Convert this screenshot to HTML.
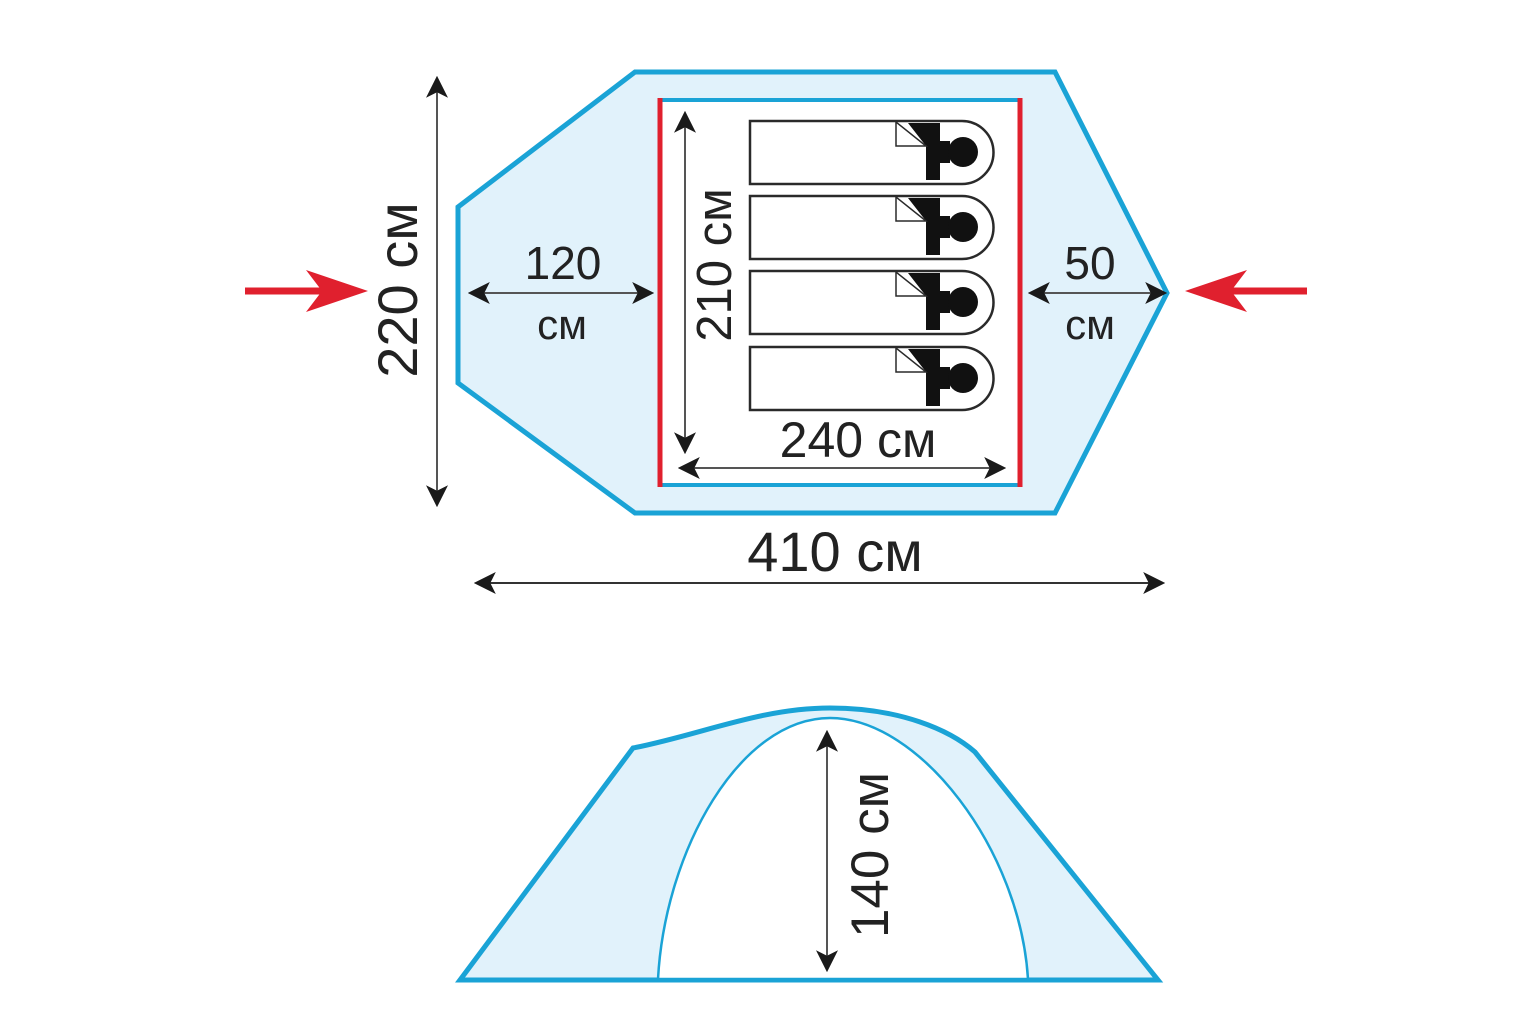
<!DOCTYPE html>
<html><head><meta charset="utf-8"><style>
html,body{margin:0;padding:0;background:#fff;}
svg{display:block;}
text{font-family:"Liberation Sans",sans-serif;fill:#222;}
</style></head><body>
<svg width="1536" height="1017" viewBox="0 0 1536 1017" xmlns="http://www.w3.org/2000/svg">
<defs>
<marker id="ah" viewBox="0 0 10 10" refX="9" refY="5" markerWidth="22" markerHeight="22" markerUnits="userSpaceOnUse" orient="auto-start-reverse">
<path d="M0,0 L10,5 L0,10 L2.5,5 Z" fill="#1a1a1a"/>
</marker>
<symbol id="bag" overflow="visible">
<path d="M750,0 H962 A31.5,31.5 0 0 1 962,63 H750 Z" fill="#fff" stroke="#2a2a2a" stroke-width="2.5"/>
<path d="M908,2 L940,2 L940,20 L950,20 L950,42 L940,42 L940,59 L926,59 L926,25 Z" fill="#111"/>
<circle cx="963" cy="31" r="15" fill="#111"/>
<path d="M896,1 L896,25 L926,25 Z" fill="#fff" stroke="#2a2a2a" stroke-width="1.5"/>
</symbol>
</defs>

<polygon points="635,72 1055,72 1167,293 1055,513 635,513 458,383 458,207" fill="#e1f2fb" stroke="#1aa3d6" stroke-width="5" stroke-linejoin="miter"/>
<rect x="660" y="100" width="360" height="385" fill="#fff" stroke="#1aa3d6" stroke-width="4"/>
<line x1="660" y1="98" x2="660" y2="487" stroke="#e0202e" stroke-width="5"/>
<line x1="1020" y1="98" x2="1020" y2="487" stroke="#e0202e" stroke-width="5"/>

<use href="#bag" y="121"/>
<use href="#bag" y="196"/>
<use href="#bag" y="271"/>
<use href="#bag" y="347"/>

<line x1="437" y1="78" x2="437" y2="505" stroke="#555" stroke-width="2" marker-start="url(#ah)" marker-end="url(#ah)"/>
<text transform="translate(417,290) rotate(-90)" font-size="56" text-anchor="middle">220 см</text>

<line x1="470" y1="293" x2="652" y2="293" stroke="#555" stroke-width="2" marker-start="url(#ah)" marker-end="url(#ah)"/>
<text x="563" y="279" font-size="46" text-anchor="middle">120</text>
<text x="562" y="339" font-size="42" text-anchor="middle">см</text>

<line x1="685" y1="113" x2="685" y2="452" stroke="#555" stroke-width="2" marker-start="url(#ah)" marker-end="url(#ah)"/>
<text transform="translate(731,265) rotate(-90)" font-size="49" text-anchor="middle">210 см</text>

<line x1="680" y1="468" x2="1004" y2="468" stroke="#555" stroke-width="2" marker-start="url(#ah)" marker-end="url(#ah)"/>
<text x="858" y="457" font-size="50" text-anchor="middle">240 см</text>

<line x1="1030" y1="293" x2="1165" y2="293" stroke="#555" stroke-width="2" marker-start="url(#ah)" marker-end="url(#ah)"/>
<text x="1090" y="279" font-size="46" text-anchor="middle">50</text>
<text x="1090" y="339" font-size="42" text-anchor="middle">см</text>

<line x1="476" y1="583" x2="1163" y2="583" stroke="#333" stroke-width="2" marker-start="url(#ah)" marker-end="url(#ah)"/>
<text x="835" y="571" font-size="56" text-anchor="middle">410 см</text>

<line x1="245" y1="291" x2="330" y2="291" stroke="#e0202e" stroke-width="7"/>
<path d="M368,291 L306,270 L322,291 L306,312 Z" fill="#e0202e"/>
<line x1="1307" y1="291" x2="1222" y2="291" stroke="#e0202e" stroke-width="7"/>
<path d="M1185,291 L1247,270 L1231,291 L1247,312 Z" fill="#e0202e"/>

<path d="M460,980 L633,748 C700,735 760,708 830,708 C900,708 950,730 975,752 L1158,980 Z" fill="#e1f2fb" stroke="#1aa3d6" stroke-width="5" stroke-linejoin="miter"/>
<path d="M658,979 C665,850 740,718 830,718 C920,718 1020,850 1028,979 Z" fill="#fff" stroke="#1aa3d6" stroke-width="2.5"/>
<line x1="460" y1="980" x2="1158" y2="980" stroke="#1aa3d6" stroke-width="4"/>
<line x1="827" y1="732" x2="827" y2="970" stroke="#555" stroke-width="2" marker-start="url(#ah)" marker-end="url(#ah)"/>
<text transform="translate(888,855) rotate(-90)" font-size="53" text-anchor="middle">140 см</text>
</svg>
</body></html>
